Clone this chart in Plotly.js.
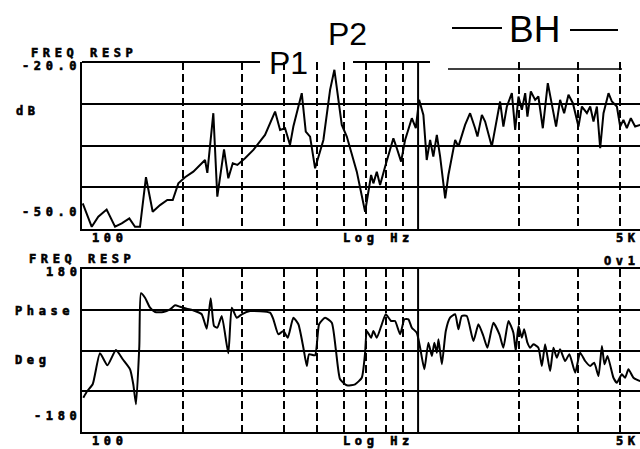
<!DOCTYPE html>
<html>
<head>
<meta charset="utf-8">
<script src="https://cdn.plot.ly/plotly-3.0.1.min.js"></script>
<style>
  html, body { margin: 0; padding: 0; overflow: hidden; background: #fff; width: 640px; height: 449px; }
  #chart { width: 700px; height: 449px; }
  /* heavy plotter-style lettering for the analyzer captions */
  .annotation-text[style*="Mono"] { letter-spacing: 4.6px; stroke: #000; stroke-width: 0.6px; }
</style>
</head>
<body>
<div id="chart"></div>
<script>
// Sweep limits (Hz) and value ranges of the two panels
const fStart = 100, fStop = 5000;
const dbRange = [-50, -20];
const degRange = [-180, 180];

// Magnitude response
const magFreq = [
  100.5, 106.9, 111.8, 118.4, 125.4, 131.3, 138.3, 143.8, 148.8, 155.0,
  162.3, 170.7, 179.4, 186.2, 193.5, 202.6, 214.4, 232.3, 236.0, 245.9,
  252.7, 264.6, 272.5, 280.9, 289.9, 305.6, 323.5, 350.4, 375.4, 388.5,
  402.0, 415.9, 425.5, 450.7, 463.2, 477.1, 493.8, 522.7, 547.2, 563.6,
  592.9, 613.6, 657.1, 695.6, 724.8, 736.2, 753.6, 770.8, 797.6, 844.3,
  864.3, 890.2, 915.0, 957.9, 984.5, 1007, 1037, 1061, 1086, 1110,
  1137, 1163, 1204, 1231, 1289, 1318, 1380, 1428, 1478, 1502,
  1548, 1583, 1657, 1695, 1754, 1794, 1837, 1901, 1945, 1989,
  2036, 2083, 2115, 2165, 2230, 2280, 2350, 2432, 2500, 2574,
  2646, 2720, 2802, 2888, 3001, 3072, 3179, 3252, 3326, 3404,
  3482, 3562, 3686, 3773, 3904, 3993, 4083, 4179, 4295, 4424, 4579,
  4800, 5000
];
const magDb = [
  -45.4, -49.6, -47.8, -46.5, -49.6, -49.0, -48.1, -49.6, -49.6, -40.7,
  -46.9, -45.7, -44.8, -44.8, -41.8, -40.7, -39.7, -37.6, -39.9, -29.2,
  -44.2, -35.7, -40.9, -38.2, -38.5, -37.3, -35.8, -33.1, -28.9, -32.2,
  -31.9, -34.9, -31.6, -25.6, -32.5, -33.4, -39.1, -34.0, -25.0, -21.4,
  -31.3, -33.4, -39.7, -46.9, -40.3, -41.8, -39.7, -42.1, -38.8, -33.7,
  -35.5, -37.9, -34.0, -30.1, -31.9, -26.8, -29.5, -37.6, -34.0, -37.0,
  -33.1, -37.0, -44.5, -40.3, -34.0, -35.2, -31.3, -29.2, -31.9, -33.4,
  -29.5, -30.7, -35.2, -32.2, -27.1, -31.6, -28.0, -25.6, -32.2, -26.2,
  -28.6, -25.6, -29.8, -25.3, -26.8, -26.2, -31.9, -23.8, -27.4, -31.6,
  -26.8, -29.2, -25.9, -27.4, -31.6, -28.0, -29.2, -28.0, -30.7, -28.0,
  -35.5, -29.2, -25.6, -27.1, -28.0, -31.6, -30.4, -31.9, -30.1, -31.6, -31.3,
  -30.2, -31.0
];

// Phase response
const phaseFreq = [
  100.9, 103.7, 107.6, 113.1, 119.0, 126.2, 132.2, 139.0, 142.1, 144.8,
  148.1, 149.8, 154.0, 159.4, 165.0, 174.6, 182.8, 189.2, 195.7, 204.9,
  216.9, 227.1, 235.0, 241.5, 247.1, 252.7, 260.5, 272.5, 279.0, 288.7,
  298.7, 316.2, 362.7, 371.0, 383.9, 397.3, 409.5, 425.5, 440.4, 455.7,
  466.4, 473.8, 493.8, 507.5, 528.8, 553.7, 569.1, 586.1, 613.6, 649.4,
  680.0, 695.6, 703.7, 724.8, 736.2, 753.6, 779.9, 801.6, 831.0, 854.1,
  884.2, 910.6, 935.9, 957.9, 991.1, 1014, 1044, 1073, 1099, 1118,
  1137, 1150, 1177, 1209, 1245, 1289, 1318, 1349, 1396, 1461,
  1512, 1564, 1608, 1675, 1746, 1794, 1857, 1921, 1953, 1989,
  2036, 2068, 2115, 2154, 2204, 2280, 2335, 2388, 2471, 2527,
  2587, 2646, 2738, 2820, 2934, 3035, 3141, 3252, 3342, 3442,
  3523, 3587, 3662, 3813, 3904, 4038, 4131, 4226, 4373, 4579,
  5000
];
const phaseDeg = [
  -104.2, -89.4, -74.6, -6.2, -32.7, 1.1, -19.4, -41.5, -74.6, -118.8,
  9.9, 126.3, 116.6, 94.5, 85.0, 85.0, 91.0, 99.8, 96.7, 92.3,
  87.2, 80.0, 48.1, 115.3, 54.1, 50.4, 76.2, -6.2, 94.5, 72.4,
  80.0, 87.2, 83.5, 68.9, 35.8, 43.1, 28.3, 72.4, 57.9, 6.2,
  -34.2, -8.4, -10.6, 57.9, 72.4, 61.4, 2.7, -63.6, -76.9, -74.6,
  -60.1, -4.9, 43.1, 28.3, 43.1, 28.3, 57.9, 80.0, 65.2, 65.2,
  35.8, 68.9, 68.9, 50.4, 39.3, 6.2, -41.5, 17.2, -12.1, 17.2,
  -4.9, 24.7, -30.5, 43.1, 72.4, 80.0, 46.8, 76.2, 76.2, 21.0,
  57.9, 32.0, 6.2, 61.4, 35.8, 6.2, 65.2, 39.3, -1.1, 54.1,
  28.3, 46.8, 17.2, 6.2, 13.7, 6.2, -34.2, 13.7, -45.3, 6.2,
  -15.9, 2.7, -23.2, -8.4, -49.0, -4.9, -23.2, -34.2, -26.9, -56.3,
  9.9, -30.5, -12.1, -60.1, -71.1, -52.6, -60.1, -41.5, -60.1, -67.4,
  -64.0
];

// Grid positions
const dashedGridHz = [200, 300, 400, 500, 600, 700, 800, 900, 2000, 3000, 4000];
const decadeHz = 1000;
const dbGrid = [-27.5, -35, -42.5];
const degGrid = [90, 0, -90];

// Caption texts
const panelTitle = 'FREQ RESP';
const magTopLabel = '-20.0', magBottomLabel = '-50.0', magUnit = 'dB';
const phaseTopLabel = '180', phaseBottomLabel = '-180';
const phaseUnitA = 'Phase', phaseUnitB = 'Deg';
const startLabel = '100', stopLabel = '5K', scaleLabel = 'Log Hz';
const overloadLabel = 'Ov1';
const markerLabels = ['P1', 'P2', 'BH'];

// Page geometry (the plot runs a little past the right edge of the window)
const W = 700, H = 449, ML = 82, MR = 47, MT = 62, MB = 17;
const px = x => (x - ML) / (W - ML - MR);
const py = y => (H - MB - y) / (H - MT - MB);
const lo = Math.log10(fStart), hi = Math.log10(fStop);
const fx = f => (Math.log10(f) - lo) / (hi - lo);

const ink = '#000';
const mono = 'DejaVu Sans Mono, monospace';
const sans = 'Liberation Sans, Arial, sans-serif';

const traces = [
  { x: magFreq, y: magDb, xaxis: 'x', yaxis: 'y', type: 'scatter', mode: 'lines',
    line: { color: ink, width: 2 }, hoverinfo: 'skip' },
  { x: phaseFreq, y: phaseDeg, xaxis: 'x2', yaxis: 'y2', type: 'scatter', mode: 'lines',
    line: { color: ink, width: 2, shape: 'spline', smoothing: 0.5 }, hoverinfo: 'skip' }
];

const xCommon = {
  type: 'log', range: [lo, hi], tickvals: dashedGridHz, showticklabels: false, ticks: '',
  showgrid: true, gridcolor: ink, gridwidth: 2, griddash: '8px,4px',
  showline: true, linecolor: ink, linewidth: 2, zeroline: false, fixedrange: true
};
const yCommon = {
  showticklabels: false, ticks: '', showgrid: true, gridcolor: ink, gridwidth: 2,
  showline: true, linecolor: ink, linewidth: 2, zeroline: false, fixedrange: true
};

function label(text, x, y, anchor, size, family) {
  return {
    text: text, xref: 'paper', yref: 'paper', x: px(x), y: py(y),
    xanchor: anchor, yanchor: 'middle', showarrow: false, borderpad: 0,
    font: { family: family || mono, size: size || 12, color: ink, weight: family ? 400 : 700 }
  };
}

const annotations = [
  label(markerLabels[0], 268, 63, 'left', 32, sans),
  label(markerLabels[1], 327, 34, 'left', 32, sans),
  label(markerLabels[2], 508, 29, 'left', 37, sans),
  // magnitude panel captions
  label(panelTitle, 30, 53, 'left'),
  label(magTopLabel, 82, 66, 'right'),
  label(magUnit, 15, 111, 'left'),
  label(magBottomLabel, 82, 212, 'right'),
  label(startLabel, 91, 238, 'left'),
  label(scaleLabel, 342, 238, 'left'),
  label(stopLabel, 615, 238, 'left'),
  // phase panel captions
  label(panelTitle, 28, 259, 'left'),
  label(phaseTopLabel, 82, 272, 'right'),
  label(phaseUnitA, 14, 311, 'left'),
  label(phaseUnitB, 14, 360, 'left'),
  label(phaseBottomLabel, 82, 416, 'right'),
  label(startLabel, 91, 441, 'left'),
  label(scaleLabel, 342, 441, 'left'),
  label(stopLabel, 615, 441, 'left'),
  label(overloadLabel, 603, 261, 'left')
];

function seg(x0, y0, x1, y1, w) {
  return { type: 'line', xref: 'paper', yref: 'paper',
    x0: px(x0), y0: py(y0), x1: px(x1), y1: py(y1), line: { color: ink, width: w || 2 } };
}

const shapes = [
  // upper frame of the magnitude panel and marker brackets
  seg(82, 62, 260, 62, 2),
  seg(353, 62, 430, 62, 2),
  seg(448, 69, 622, 69, 1.5),
  seg(452, 28, 502, 28, 2),
  seg(570, 30, 618, 30, 2),
  // solid decade line at 1 kHz in both panels
  { type: 'line', xref: 'paper', yref: 'y domain', x0: fx(decadeHz), x1: fx(decadeHz), y0: 0, y1: 1,
    line: { color: ink, width: 2 } },
  { type: 'line', xref: 'paper', yref: 'y2 domain', x0: fx(decadeHz), x1: fx(decadeHz), y0: 0, y1: 1,
    line: { color: ink, width: 2 } }
];

const layout = {
  width: W, height: H,
  margin: { l: ML, r: MR, t: MT, b: MB, pad: 0 },
  paper_bgcolor: '#fff', plot_bgcolor: '#fff',
  showlegend: false,
  xaxis: Object.assign({}, xCommon, { anchor: 'y', domain: [0, 1] }),
  yaxis: Object.assign({}, yCommon, { range: dbRange, tickvals: dbGrid, domain: [py(229), 1], anchor: 'x' }),
  xaxis2: Object.assign({}, xCommon, { anchor: 'y2', domain: [0, 1], mirror: true }),
  yaxis2: Object.assign({}, yCommon, { range: degRange, tickvals: degGrid, domain: [0, py(269)], anchor: 'x2' }),
  annotations: annotations,
  shapes: shapes
};

Plotly.newPlot('chart', traces, layout, { staticPlot: true, displayModeBar: false });
</script>
</body>
</html>
